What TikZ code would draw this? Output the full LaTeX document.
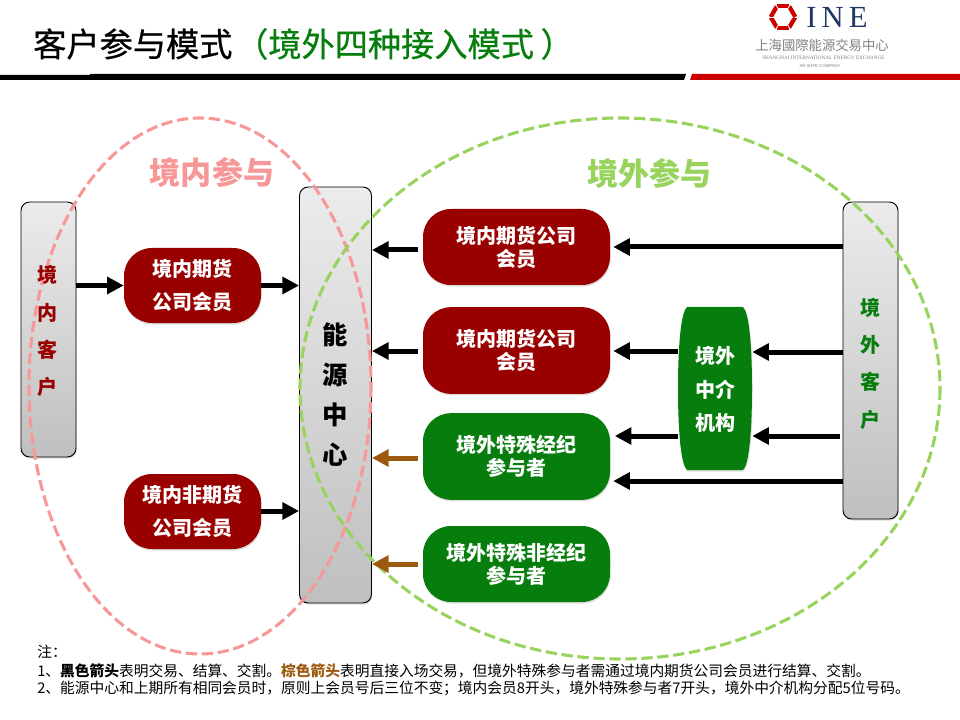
\documentclass[tikz,border=0pt]{standalone}
\usepackage{fontspec}
\setmainfont{Noto Sans CJK SC}
\newfontfamily\titlefont[FakeBold=0.6]{Noto Sans CJK SC}
\newfontfamily\logoserif{Liberation Serif}
\newfontfamily\logosans{Liberation Sans}
\usetikzlibrary{arrows.meta,shadows}
\definecolor{kred}{HTML}{990000}
\definecolor{kgreen}{HTML}{067D0C}
\definecolor{kbrown}{HTML}{9C5A0F}
\definecolor{kpink}{HTML}{F79797}
\definecolor{klime}{HTML}{98D35E}
\definecolor{barred}{HTML}{CC0000}
\definecolor{navy}{HTML}{1F3864}
\tikzset{
  softshadow/.style={drop shadow={opacity=.25,shadow xshift=0.5pt,shadow yshift=-1.2pt}},
  greybox/.style={draw=black,line width=.7pt,rounded corners=6.5pt,top color=gray!15,bottom color=gray!50,inner sep=0pt,softshadow},
  pill/.style={rounded corners=#1,inner sep=0pt,align=center,text=white,softshadow},
  pill/.default=21pt,
  redpill/.style={pill,fill=kred},
  greenpill/.style={pill,fill=kgreen},
  tight/.style={font=\bfseries\fontsize{15}{17.25}\selectfont},
  loose/.style={font=\bfseries\fontsize{15}{24.4}\selectfont},
  arr/.style={line width=3.75pt,-{Triangle[length=12.5pt,width=12.5pt]},black},
  brownarr/.style={arr,kbrown},
  gapstart/.style={shorten <=3.6pt},
  ring/.style={line width=2.3pt,dash pattern=on 8.5pt off 3.5pt},
  vlabel/.style={align=center,inner sep=0pt,font=\bfseries\fontsize{#1}{#1}\selectfont},
  notetext/.style={anchor=west,inner sep=0pt,font=\fontsize{11.05}{11.05}\selectfont},
  heading/.style={font=\bfseries\fontsize{23.3}{23.3}\selectfont,inner sep=0pt}
}
\begin{document}
\begin{tikzpicture}[x=.75pt,y=-.75pt]
\useasboundingbox (0,0) rectangle (960,720);
% header
\node[anchor=west,inner sep=0pt,font=\titlefont\fontsize{24.9}{24.9}\selectfont] (title) at (33,44) {客户参与模式\textcolor{kgreen}{\kern2pt（境外四种接入模式\kern5pt）}};
\fill[black] (0,75) -- (90,75) -- (90,74) -- (686,74) -- (684,80) -- (0,80) -- cycle;
\fill[barred] (692,74) -- (960,74) -- (960,80) -- (690,80) -- cycle;
% logo
\foreach \a in {0,60,...,300}{
  \draw[barred,line width=3.2pt,line cap=butt] (783,17) ++(\a:12.3) -- ++(\a+120:12.3);
  \draw[white,line width=.6pt] (783,17) ++(\a:7.4) -- ++(\a:9.5);
}
\node[inner sep=0pt,text=navy,font=\logoserif\fontsize{23}{23}\selectfont] (ine) at (837,17) {I\,N\,E};
\node[inner sep=0pt,text=gray,font=\fontsize{10}{10}\selectfont] (cnname) at (822,45) {上海國際能源交易中心};
\node[inner sep=0pt,text=gray,font=\logoserif\fontsize{3.9}{4}\selectfont] (enname) at (823.5,58) {SHANGHAI INTERNATIONAL ENERGY EXCHANGE};
\node[inner sep=0pt,text=gray,font=\logosans\fontsize{3.2}{4}\selectfont] (shfe) at (820,66) {AN SHFE COMPANY};
% grey boxes
\node[greybox,minimum width=41.25pt,minimum height=191.25pt] (kIn) at (48.5,329.5) {};
\node[greybox,minimum width=54pt,minimum height=312pt] (kC) at (335.5,395) {};
\node[greybox,minimum width=41.25pt,minimum height=237.75pt] (kOut) at (870.5,360.5) {};
% rings
\draw[ring,kpink] (200,386) ellipse (171 and 268);
\draw[ring,klime] (620,388.5) ellipse (320 and 270.5);
\node[heading,text=kpink] (hIn) at (212,172) {境内参与};
\node[heading,text=klime] (hOut) at (649.5,173) {境外参与};
% member pills
\node[redpill,loose,minimum width=102.75pt,minimum height=56.25pt] (mA) at (192.5,285.5) {境内期货\\公司会员};
\node[redpill,loose,minimum width=102.75pt,minimum height=56.25pt] (mB) at (192.5,511.5) {境内非期货\\公司会员};
\node[redpill,tight,minimum width=140.25pt,minimum height=57pt] (rA) at (516.5,247) {境内期货公司\\会员};
\node[redpill,tight,minimum width=140.25pt,minimum height=65pt] (rB) at (516.5,350.5) {境内期货公司\\会员};
\node[greenpill,tight,minimum width=140.25pt,minimum height=65pt] (gA) at (516.5,456.5) {境外特殊经纪\\参与者};
\node[greenpill,tight,minimum width=140.25pt,minimum height=57pt] (gB) at (516.5,564) {境外特殊非经纪\\参与者};
% intermediary barrel
\fill[kgreen,softshadow] (687,307) -- (743,307) .. controls (749,312) and (752,345) .. (752,388.5) .. controls (752,432) and (749,465) .. (743,470) -- (687,470) .. controls (681,465) and (678,432) .. (678,388.5) .. controls (678,345) and (681,312) .. (687,307) -- cycle;
\node[loose,text=white,align=center,inner sep=0pt,minimum width=55.5pt,minimum height=122pt,font=\bfseries\fontsize{15}{25}\selectfont] (zj) at (715,389.5) {境外\\中介\\机构};
% vertical labels
\node[vlabel=15,text=kred,text width=15pt,execute at begin node={\baselineskip=27.8pt}] (tIn) at (47.5,331) {境\\内\\客\\户};
\node[vlabel=19,text=black,text width=19pt,execute at begin node={\baselineskip=30pt}] (tC) at (335.5,395) {能\\源\\中\\心};
\node[vlabel=15,text=kgreen,text width=15pt,execute at begin node={\baselineskip=28pt}] (tOut) at (870.5,363.5) {境\\外\\客\\户};
% level coordinates
\coordinate (y250) at (0,250);
\coordinate (y351) at (0,351);
\coordinate (y352) at (0,352);
\coordinate (y436) at (0,436);
\coordinate (y458) at (0,458);
\coordinate (y481) at (0,481);
\coordinate (y564) at (0,564);
\coordinate (y511) at (0,511);
% connectors
\draw[arr] (kIn.east |- mA.west) -- (mA.west);
\draw[arr] (mA.east) -- (kC.west |- mA.east);
\draw[arr] (mB.east |- y511) -- (kC.west |- y511);
\draw[arr,gapstart] (rA.west |- y250) -- (kC.east |- y250);
\draw[arr,gapstart] (rB.west |- y351) -- (kC.east |- y351);
\draw[brownarr,gapstart] (gA.west |- y458) -- (kC.east |- y458);
\draw[brownarr,gapstart] (gB.west |- y564) -- (kC.east |- y564);
\draw[arr,shorten >=2.2pt] (kOut.west |- rA.east) -- (rA.east);
\draw[arr,shorten >=2.2pt] (zj.west |- y351) -- (rB.east |- y351);
\draw[arr] (kOut.west |- y352) -- (zj.east |- y352);
\draw[arr,shorten >=3.4pt] (zj.west |- y436) -- (gA.east |- y436);
\draw[arr,shorten <=2.2pt] (kOut.west |- y436) -- (zj.east |- y436);
\draw[arr,shorten >=2.2pt] (kOut.west |- y481) -- (gA.east |- y481);
% notes
\node[notetext] (n0) at (37,652) {注：};
\node[notetext] (n1) at (37,671) {1、\textbf{黑色箭头}表明交易、结算、交割。\textbf{\textcolor{kbrown}{棕色箭头}}表明直接入场交易，但境外特殊参与者需通过境内期货公司会员进行结算、交割。};
\node[notetext] (n2) at (37,688) {2、能源中心和上期所有相同会员时，原则上会员号后三位不变；境内会员8开头，境外特殊参与者7开头，境外中介机构分配5位号码。};
\end{tikzpicture}
\end{document}
